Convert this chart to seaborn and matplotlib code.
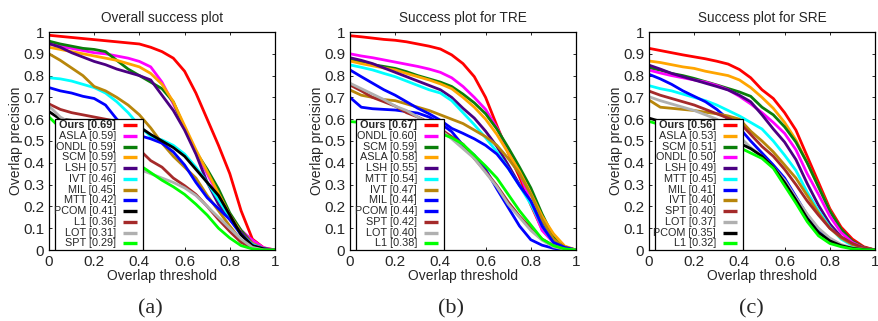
import numpy as np
import pandas as pd
import matplotlib
matplotlib.use("Agg")
import matplotlib.pyplot as plt
from matplotlib.patches import Rectangle
import seaborn as sns

# --- DATA ---
thresholds = [0.0, 0.05, 0.1, 0.15, 0.2, 0.25, 0.3, 0.35, 0.4, 0.45, 0.5,
              0.55, 0.6, 0.65, 0.7, 0.75, 0.8, 0.85, 0.9, 0.95, 1.0]

# (a) Overall success plot
overall_methods = ["Ours", "ASLA", "ONDL", "SCM", "LSH", "IVT", "MIL", "MTT", "PCOM", "L1", "LOT", "SPT"]
overall_scores = [0.69, 0.59, 0.59, 0.59, 0.57, 0.46, 0.45, 0.42, 0.41, 0.36, 0.31, 0.29]
overall_colors = ["#ff0000", "#ff00ff", "#0a7f0a", "#ffa500", "#4b0082", "#00ffff",
                  "#b8860b", "#0000ff", "#000000", "#a52a2a", "#b0b0b0", "#00ff00"]
overall_curves = {
    "Ours": [0.985, 0.98, 0.975, 0.97, 0.965, 0.96, 0.955, 0.95, 0.945, 0.93, 0.91, 0.88, 0.82, 0.72, 0.60, 0.48, 0.35, 0.18, 0.05, 0.01, 0.0],
    "ASLA": [0.945, 0.935, 0.925, 0.915, 0.905, 0.90, 0.89, 0.88, 0.865, 0.84, 0.77, 0.67, 0.56, 0.45, 0.35, 0.25, 0.16, 0.09, 0.045, 0.01, 0.0],
    "ONDL": [0.958, 0.945, 0.935, 0.925, 0.92, 0.91, 0.87, 0.83, 0.80, 0.77, 0.74, 0.68, 0.56, 0.45, 0.37, 0.28, 0.17, 0.09, 0.03, 0.005, 0.0],
    "SCM": [0.93, 0.92, 0.91, 0.90, 0.89, 0.88, 0.87, 0.855, 0.84, 0.81, 0.76, 0.68, 0.57, 0.46, 0.36, 0.26, 0.16, 0.08, 0.03, 0.005, 0.0],
    "LSH": [0.947, 0.93, 0.905, 0.885, 0.865, 0.85, 0.83, 0.815, 0.80, 0.78, 0.71, 0.64, 0.55, 0.44, 0.31, 0.21, 0.14, 0.08, 0.025, 0.005, 0.0],
    "IVT": [0.79, 0.785, 0.775, 0.76, 0.745, 0.72, 0.68, 0.63, 0.57, 0.52, 0.505, 0.48, 0.44, 0.38, 0.31, 0.23, 0.15, 0.07, 0.025, 0.005, 0.0],
    "MIL": [0.90, 0.87, 0.835, 0.80, 0.75, 0.73, 0.70, 0.665, 0.62, 0.56, 0.49, 0.43, 0.38, 0.33, 0.25, 0.18, 0.11, 0.045, 0.01, 0.0, 0.0],
    "MTT": [0.745, 0.73, 0.72, 0.705, 0.695, 0.665, 0.60, 0.555, 0.525, 0.51, 0.49, 0.45, 0.39, 0.31, 0.24, 0.19, 0.14, 0.07, 0.02, 0.005, 0.0],
    "PCOM": [0.635, 0.60, 0.595, 0.59, 0.59, 0.59, 0.585, 0.58, 0.565, 0.53, 0.50, 0.47, 0.43, 0.37, 0.31, 0.25, 0.16, 0.07, 0.02, 0.005, 0.0],
    "L1": [0.67, 0.645, 0.63, 0.62, 0.61, 0.60, 0.59, 0.53, 0.46, 0.41, 0.38, 0.33, 0.295, 0.255, 0.20, 0.14, 0.085, 0.035, 0.01, 0.0, 0.0],
    "LOT": [0.66, 0.61, 0.58, 0.55, 0.52, 0.49, 0.45, 0.41, 0.37, 0.35, 0.33, 0.31, 0.285, 0.25, 0.20, 0.15, 0.10, 0.05, 0.012, 0.0, 0.0],
    "SPT": [0.61, 0.56, 0.54, 0.52, 0.50, 0.47, 0.44, 0.42, 0.39, 0.355, 0.32, 0.29, 0.255, 0.21, 0.16, 0.10, 0.055, 0.02, 0.005, 0.0, 0.0],
}

# (b) Success plot for TRE
tre_methods = ["Ours", "ONDL", "SCM", "ASLA", "LSH", "MTT", "IVT", "MIL", "PCOM", "SPT", "LOT", "L1"]
tre_scores = [0.67, 0.60, 0.59, 0.58, 0.55, 0.54, 0.47, 0.44, 0.44, 0.42, 0.40, 0.38]
tre_colors = ["#ff0000", "#ff00ff", "#0a7f0a", "#ffa500", "#4b0082", "#00ffff",
              "#b8860b", "#0000ff", "#0000ff", "#a52a2a", "#b0b0b0", "#00ff00"]
tre_curves = {
    "Ours": [0.983, 0.978, 0.972, 0.966, 0.962, 0.955, 0.945, 0.935, 0.922, 0.895, 0.855, 0.795, 0.70, 0.57, 0.445, 0.335, 0.207, 0.095, 0.035, 0.01, 0.0],
    "ONDL": [0.90, 0.89, 0.882, 0.872, 0.862, 0.852, 0.842, 0.83, 0.815, 0.79, 0.75, 0.70, 0.645, 0.56, 0.455, 0.355, 0.22, 0.09, 0.035, 0.01, 0.0],
    "SCM": [0.872, 0.862, 0.85, 0.842, 0.833, 0.818, 0.80, 0.785, 0.77, 0.75, 0.715, 0.675, 0.625, 0.555, 0.47, 0.38, 0.285, 0.165, 0.06, 0.015, 0.0],
    "ASLA": [0.867, 0.855, 0.845, 0.835, 0.826, 0.81, 0.795, 0.78, 0.762, 0.74, 0.70, 0.655, 0.60, 0.53, 0.445, 0.36, 0.26, 0.155, 0.075, 0.018, 0.0],
    "LSH": [0.882, 0.87, 0.855, 0.835, 0.815, 0.795, 0.775, 0.755, 0.735, 0.70, 0.65, 0.605, 0.545, 0.475, 0.39, 0.30, 0.22, 0.125, 0.045, 0.012, 0.0],
    "MTT": [0.849, 0.838, 0.826, 0.81, 0.795, 0.775, 0.755, 0.735, 0.72, 0.685, 0.63, 0.575, 0.515, 0.45, 0.375, 0.295, 0.21, 0.11, 0.035, 0.01, 0.0],
    "IVT": [0.734, 0.71, 0.70, 0.69, 0.685, 0.67, 0.655, 0.64, 0.62, 0.60, 0.58, 0.55, 0.52, 0.48, 0.42, 0.35, 0.255, 0.14, 0.05, 0.012, 0.0],
    "MIL": [0.826, 0.795, 0.765, 0.735, 0.71, 0.68, 0.65, 0.625, 0.595, 0.558, 0.535, 0.51, 0.48, 0.44, 0.375, 0.295, 0.225, 0.11, 0.035, 0.012, 0.0],
    "PCOM": [0.70, 0.655, 0.648, 0.645, 0.642, 0.635, 0.628, 0.61, 0.58, 0.543, 0.48, 0.435, 0.37, 0.28, 0.195, 0.11, 0.047, 0.022, 0.008, 0.0, 0.0],
    "SPT": [0.757, 0.73, 0.70, 0.68, 0.66, 0.63, 0.61, 0.585, 0.555, 0.52, 0.485, 0.42, 0.36, 0.295, 0.22, 0.155, 0.10, 0.05, 0.02, 0.005, 0.0],
    "LOT": [0.765, 0.74, 0.715, 0.69, 0.66, 0.64, 0.61, 0.58, 0.55, 0.51, 0.465, 0.42, 0.355, 0.29, 0.21, 0.15, 0.09, 0.045, 0.015, 0.003, 0.0],
    "L1": [0.589, 0.585, 0.58, 0.575, 0.57, 0.565, 0.555, 0.545, 0.535, 0.515, 0.485, 0.435, 0.385, 0.33, 0.255, 0.18, 0.115, 0.05, 0.02, 0.005, 0.0],
}

# (c) Success plot for SRE
sre_methods = ["Ours", "ASLA", "SCM", "ONDL", "LSH", "MTT", "MIL", "IVT", "SPT", "LOT", "PCOM", "L1"]
sre_scores = [0.56, 0.53, 0.51, 0.50, 0.49, 0.45, 0.41, 0.40, 0.40, 0.37, 0.35, 0.32]
sre_colors = ["#ff0000", "#ffa500", "#0a7f0a", "#ff00ff", "#4b0082", "#00ffff",
              "#0000ff", "#b8860b", "#a52a2a", "#b0b0b0", "#000000", "#00ff00"]
sre_curves = {
    "Ours": [0.925, 0.915, 0.905, 0.895, 0.886, 0.877, 0.866, 0.853, 0.828, 0.79, 0.735, 0.695, 0.63, 0.55, 0.43, 0.31, 0.19, 0.105, 0.05, 0.015, 0.0],
    "ASLA": [0.867, 0.86, 0.85, 0.84, 0.833, 0.82, 0.81, 0.80, 0.78, 0.745, 0.70, 0.65, 0.585, 0.505, 0.40, 0.29, 0.18, 0.09, 0.035, 0.01, 0.0],
    "SCM": [0.836, 0.825, 0.81, 0.80, 0.787, 0.772, 0.757, 0.741, 0.725, 0.705, 0.655, 0.62, 0.565, 0.495, 0.40, 0.29, 0.18, 0.095, 0.04, 0.012, 0.0],
    "ONDL": [0.825, 0.812, 0.80, 0.79, 0.78, 0.77, 0.755, 0.735, 0.705, 0.67, 0.63, 0.585, 0.535, 0.46, 0.35, 0.255, 0.155, 0.08, 0.035, 0.01, 0.0],
    "LSH": [0.848, 0.83, 0.81, 0.795, 0.78, 0.765, 0.75, 0.734, 0.71, 0.68, 0.62, 0.555, 0.495, 0.415, 0.305, 0.205, 0.12, 0.06, 0.025, 0.008, 0.0],
    "MTT": [0.754, 0.74, 0.73, 0.715, 0.70, 0.685, 0.665, 0.64, 0.615, 0.585, 0.555, 0.50, 0.435, 0.365, 0.265, 0.18, 0.105, 0.05, 0.02, 0.005, 0.0],
    "MIL": [0.806, 0.785, 0.76, 0.73, 0.705, 0.68, 0.645, 0.60, 0.56, 0.50, 0.445, 0.39, 0.33, 0.245, 0.16, 0.095, 0.05, 0.02, 0.008, 0.002, 0.0],
    "IVT": [0.688, 0.655, 0.65, 0.645, 0.64, 0.632, 0.625, 0.615, 0.60, 0.545, 0.50, 0.45, 0.39, 0.33, 0.25, 0.17, 0.10, 0.055, 0.025, 0.008, 0.0],
    "SPT": [0.729, 0.71, 0.695, 0.68, 0.665, 0.645, 0.625, 0.605, 0.585, 0.53, 0.475, 0.43, 0.37, 0.30, 0.225, 0.16, 0.10, 0.06, 0.03, 0.01, 0.0],
    "LOT": [0.703, 0.685, 0.67, 0.655, 0.64, 0.62, 0.60, 0.56, 0.52, 0.47, 0.43, 0.38, 0.32, 0.24, 0.165, 0.10, 0.055, 0.025, 0.01, 0.003, 0.0],
    "PCOM": [0.605, 0.59, 0.58, 0.57, 0.56, 0.55, 0.535, 0.515, 0.49, 0.465, 0.43, 0.38, 0.31, 0.23, 0.145, 0.08, 0.042, 0.02, 0.008, 0.002, 0.0],
    "L1": [0.59, 0.575, 0.565, 0.555, 0.545, 0.53, 0.515, 0.495, 0.47, 0.445, 0.42, 0.375, 0.295, 0.215, 0.13, 0.065, 0.03, 0.015, 0.005, 0.001, 0.0],
}

panels = [
    ("Overall success plot", "(a)", overall_methods, overall_scores, overall_colors, overall_curves),
    ("Success plot for TRE", "(b)", tre_methods, tre_scores, tre_colors, tre_curves),
    ("Success plot for SRE", "(c)", sre_methods, sre_scores, sre_colors, sre_curves),
]

# --- STYLE ---
sns.set_theme(style="ticks")
plt.rcParams['font.family'] = ['Liberation Sans', 'DejaVu Sans']
plt.rcParams['axes.linewidth'] = 0.9

fig = plt.figure(figsize=(8.79, 3.21), dpi=100)
axes_left = [49 / 879, 350 / 879, 649 / 879]
sub_x = [150 / 879, 451 / 879, 751 / 879]

for i, (title, tag, methods, scores, colors, curves) in enumerate(panels):
    ax = fig.add_axes([axes_left[i], 1 - 250 / 321, 226 / 879, 218 / 321])

    df = pd.DataFrame([
        {"method": m, "threshold": t, "precision": v}
        for m in methods for t, v in zip(thresholds, curves[m])
    ])
    sns.lineplot(data=df, x="threshold", y="precision", hue="method",
                 hue_order=methods, palette=dict(zip(methods, colors)),
                 linewidth=2.0, errorbar=None, legend=False, ax=ax)

    ax.set_xlim(0, 1)
    ax.set_ylim(0, 1)
    ax.set_xticks([0, 0.2, 0.4, 0.6, 0.8, 1.0])
    ax.set_xticklabels(["0", "0.2", "0.4", "0.6", "0.8", "1"])
    ax.set_yticks([0, 0.1, 0.2, 0.3, 0.4, 0.5, 0.6, 0.7, 0.8, 0.9, 1.0])
    ax.set_yticklabels(["0", "0.1", "0.2", "0.3", "0.4", "0.5", "0.6", "0.7", "0.8", "0.9", "1"])
    ax.tick_params(direction="in", length=2.5, width=0.7, top=True, right=True,
                   labelsize=11, pad=3.5)
    for sp in ax.spines.values():
        sp.set_visible(True)
        sp.set_color("black")
    ax.set_title(title, fontsize=9.8, pad=7)
    ax.set_xlabel("Overlap threshold", fontsize=10, labelpad=0)
    ax.set_ylabel("Overlap precision", fontsize=10, labelpad=0)

    # gnuplot-style legend box, labels right-aligned, samples on the right
    ax.add_patch(Rectangle((0.027, 0.0), 0.389, 0.60, transform=ax.transAxes,
                           facecolor="white", edgecolor="black", lw=0.9, zorder=5))
    for k, (m, s, c) in enumerate(zip(methods, scores, colors)):
        y = 0.572 - k * 0.0492
        ax.text(0.297, y, f"{m} [{s:.2f}]", transform=ax.transAxes, ha="right", va="center",
                fontsize=7.8, fontweight="bold" if k == 0 else "normal", zorder=6)
        ax.plot([0.326, 0.391], [y, y], transform=ax.transAxes, color=c, lw=2.4,
                solid_capstyle="butt", zorder=6)

    fig.text(sub_x[i], 1 - 309 / 321, tag, ha="center", va="center", fontsize=16,
             family=["Liberation Serif", "DejaVu Serif"])

fig.savefig("out.png", dpi=100)
